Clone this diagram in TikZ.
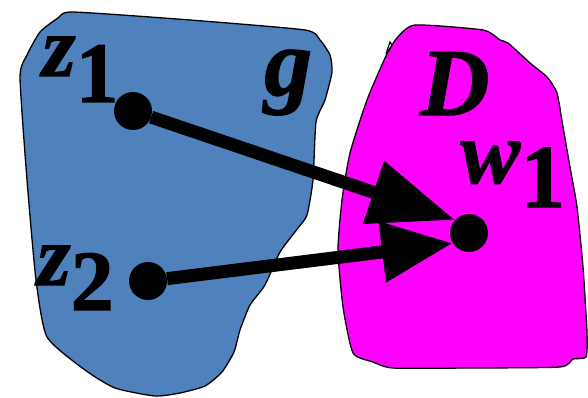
\documentclass[tikz,border=0pt]{standalone}
\usepackage{fontspec}
\setmainfont{Liberation Serif}[BoldFeatures={FakeBold=1.2},BoldItalicFeatures={FakeBold=1.2}]
\usetikzlibrary{arrows.meta}
\definecolor{regblue}{RGB}{79,129,189}
\definecolor{regmag}{RGB}{255,0,255}
\tikzset{
  region/.style={draw=black, line width=1.3pt, line join=round},
  dotnode/.style={circle, fill=black, minimum size=38pt, inner sep=0pt},
  lbl/.style={inner sep=0pt, anchor=base west, font=\fontsize{86}{86}\selectfont\bfseries},
}
\begin{document}
\begin{tikzpicture}[x=1pt,y=-1pt]
\useasboundingbox (0,0) rectangle (588,398);
% region g
\draw[region, fill=regblue] plot[smooth cycle, tension=0.35] coordinates {
 (73,12) (190,20) (305,30) (320,40) (330,55) (332,72) (325,100) (316,122)
 (313,180) (307,215) (298,228) (280,252) (265,285) (250,305) (240,330)
 (234,352) (222,372) (205,386) (180,393) (155,396) (115,388) (85,370)
 (47,337) (36,280) (27,180) (20,77) (27,55) (40,32) (58,18)};
% region D
\draw[region, fill=regmag] plot[smooth cycle, tension=0.35] coordinates {
 (415,25) (483,30) (500,40) (508,43) (530,63) (547,77) (557,93) (563,127)
 (570,167) (577,207) (583,267) (587,333) (586,357) (573,359) (560,367)
 (470,368) (393,368) (373,362) (353,353) (343,307) (338,250) (342,200)
 (350,153) (367,100) (386,56) (397,38)};
\draw[line width=1.2pt] (386,54) -- (390,42) -- (392,45) -- (388,52);
% points
\node[dotnode] (z1) at (133,111) {};
\node[dotnode] (z2) at (148,281) {};
\node[dotnode] (w1) at (469,233) {};
% arrows
\draw[line width=13pt, -{Triangle[length=86pt,width=63pt]}] (z1) -- (w1.137);
\draw[line width=13pt, -{Triangle[length=71pt,width=58pt]}] (z2) -- (w1.212);
% labels
\node[lbl] (lz1) at (42,76) {\itshape z\upshape\raisebox{-26pt}{1}};
\node[lbl] (lz2) at (37,285) {\itshape z\upshape\raisebox{-25pt}{2}};
\node[lbl, font=\fontsize{96}{96}\selectfont\bfseries] (lg) at (264,95) {\itshape g};
\node[lbl, font=\fontsize{96}{96}\selectfont\bfseries, text depth=0pt] (lD) at (420,115) {\itshape D};
\node[lbl, font=\fontsize{90}{90}\selectfont\bfseries, text height=40pt] (lw1) at (460,183) {\itshape w\upshape\raisebox{-24pt}{1}};
\end{tikzpicture}
\end{document}
